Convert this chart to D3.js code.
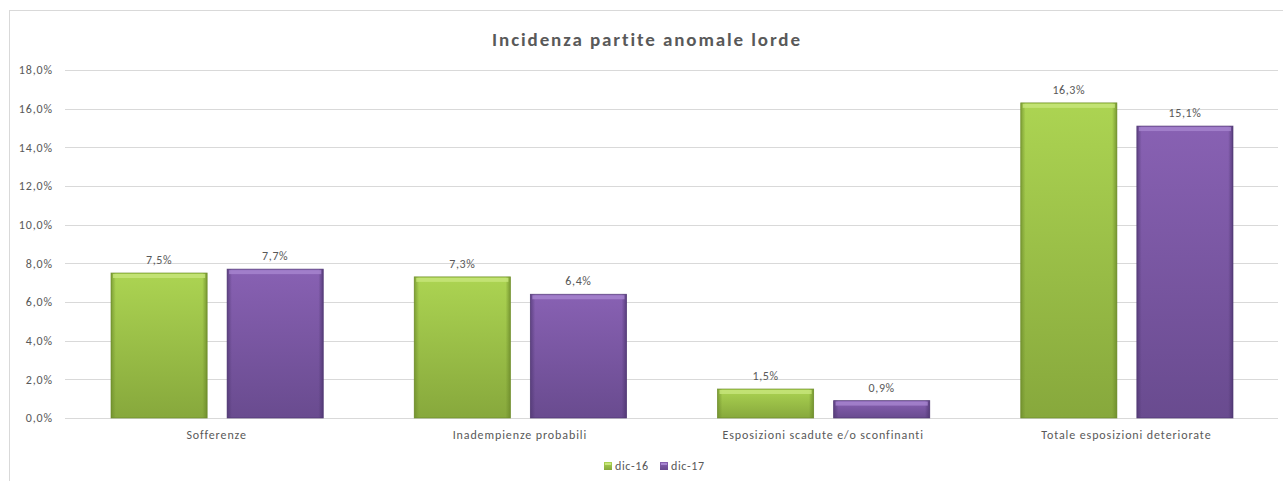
<!DOCTYPE html>
<html>
<head>
<meta charset="utf-8">
<script src="https://cdn.jsdelivr.net/npm/d3@7"></script>
<style>
  body { margin: 0; background: #fff; }
  text { font-family: Carlito, Lato, "Open Sans", sans-serif; fill: #595959; }
</style>
</head>
<body>
<svg id="chart" width="1283" height="481"></svg>
<script>
const categories = ["Sofferenze", "Inadempienze probabili", "Esposizioni scadute e/o sconfinanti", "Totale esposizioni deteriorate"];
const seriesNames = ["dic-16", "dic-17"];
const dic16 = [7.5, 7.3, 1.5, 16.3];
const dic17 = [7.7, 6.4, 0.9, 15.1];
const yTicks = [0, 2, 4, 6, 8, 10, 12, 14, 16, 18];

const svg = d3.select("#chart");
const margin = {top: 70, right: 5, bottom: 63, left: 65};
const width = 1283 - margin.left - margin.right;
const height = 481 - margin.top - margin.bottom;

const fmt = v => d3.format(".1f")(v).replace(".", ",") + "%";

// chart frame
svg.append("rect")
   .attr("x", 9.5).attr("y", 10.5)
   .attr("width", 1290).attr("height", 490)
   .attr("fill", "none").attr("stroke", "#d9d9d9");

// gradients
const defs = svg.append("defs");
const palette = {
  "dic-16": {top: "#acd452", bottom: "#87a83c", edge: "#6b8a2a", hi: "#c8e67c"},
  "dic-17": {top: "#8861b3", bottom: "#694b8f", edge: "#4e3670", hi: "#a786d0"}
};
seriesNames.forEach((s, i) => {
  const g = defs.append("linearGradient").attr("id", "v" + i)
                .attr("x1", 0).attr("y1", 0).attr("x2", 0).attr("y2", 1);
  g.append("stop").attr("offset", "0%").attr("stop-color", palette[s].top);
  g.append("stop").attr("offset", "100%").attr("stop-color", palette[s].bottom);
  const h = defs.append("linearGradient").attr("id", "h" + i)
                .attr("x1", 0).attr("y1", 0).attr("x2", 1).attr("y2", 0);
  h.append("stop").attr("offset", "0%").attr("stop-color", palette[s].edge).attr("stop-opacity", 0.7);
  h.append("stop").attr("offset", "5%").attr("stop-color", palette[s].edge).attr("stop-opacity", 0);
  h.append("stop").attr("offset", "95%").attr("stop-color", palette[s].edge).attr("stop-opacity", 0);
  h.append("stop").attr("offset", "100%").attr("stop-color", palette[s].edge).attr("stop-opacity", 0.8);
});

const x0 = d3.scaleBand().domain(categories).range([0, width]);
const x1 = d3.scaleBand().domain(seriesNames).range([46, x0.bandwidth() - 45]).paddingInner(0.172);
const y = d3.scaleLinear().domain([0, 18]).range([height, 0]);

const g = svg.append("g").attr("transform", `translate(${margin.left},${margin.top})`);

// gridlines
g.append("g").selectAll("line").data(yTicks).join("line")
 .attr("x1", 0).attr("x2", width)
 .attr("y1", d => Math.round(y(d)) + 0.5).attr("y2", d => Math.round(y(d)) + 0.5)
 .attr("stroke", "#d9d9d9");

// y tick labels
g.append("g").selectAll("text").data(yTicks).join("text")
 .attr("x", -12).attr("y", d => y(d)).attr("dy", "0.35em")
 .attr("text-anchor", "end").style("font-size", "12px").style("letter-spacing", "0.9px")
 .text(d => fmt(d));

const rows = categories.map((c, i) => ({cat: c, values: [dic16[i], dic17[i]]}));

const groups = g.selectAll("g.cat").data(rows).join("g")
  .attr("class", "cat")
  .attr("transform", d => `translate(${x0(d.cat)},0)`);

groups.each(function(row) {
  const grp = d3.select(this);
  seriesNames.forEach((s, i) => {
    const v = row.values[i];
    const bx = x1(s), bw = x1.bandwidth(), by = y(v), bh = y(0) - y(v);
    grp.append("rect").attr("x", bx).attr("y", by).attr("width", bw).attr("height", bh)
       .attr("fill", `url(#v${i})`);
    grp.append("rect").attr("x", bx).attr("y", by).attr("width", bw).attr("height", bh)
       .attr("fill", `url(#h${i})`);
    // top highlight bevel
    grp.append("rect").attr("x", bx + 2).attr("y", by + 1).attr("width", bw - 4).attr("height", 4)
       .attr("fill", palette[s].hi).attr("opacity", 0.8);
    grp.append("rect").attr("x", bx).attr("y", by).attr("width", bw).attr("height", bh)
       .attr("fill", "none").attr("stroke", palette[s].edge).attr("stroke-width", 0.8).attr("opacity", 0.8);
    grp.append("text")
       .attr("x", bx + bw / 2).attr("y", by - 9)
       .attr("text-anchor", "middle").style("font-size", "12px").style("letter-spacing", "0.6px")
       .text(fmt(v));
  });
});

// category labels
g.append("g").selectAll("text").data(categories).join("text")
 .attr("x", d => x0(d) + x0.bandwidth() / 2).attr("y", height + 21)
 .attr("text-anchor", "middle").style("font-size", "12px").style("letter-spacing", "0.9px")
 .text(d => d);

// title
svg.append("text")
   .attr("x", 647).attr("y", 46)
   .attr("text-anchor", "middle")
   .style("font-size", "19px").style("font-weight", "bold").style("letter-spacing", "1.9px")
   .text("Incidenza partite anomale lorde");

// legend
const legend = svg.append("g").attr("transform", "translate(604,462)");
const lx = [0, 56];
seriesNames.forEach((s, i) => {
  const it = legend.append("g").attr("transform", `translate(${lx[i]},0)`);
  it.append("rect").attr("width", 8).attr("height", 8).attr("fill", `url(#v${i})`);
  it.append("rect").attr("x", 1).attr("y", 1).attr("width", 6).attr("height", 2).attr("fill", palette[s].hi);
  it.append("text").attr("x", 11).attr("y", 4).attr("dy", "0.35em")
    .style("font-size", "12px").style("letter-spacing", "0.6px").text(s);
});
</script>
</body>
</html>
